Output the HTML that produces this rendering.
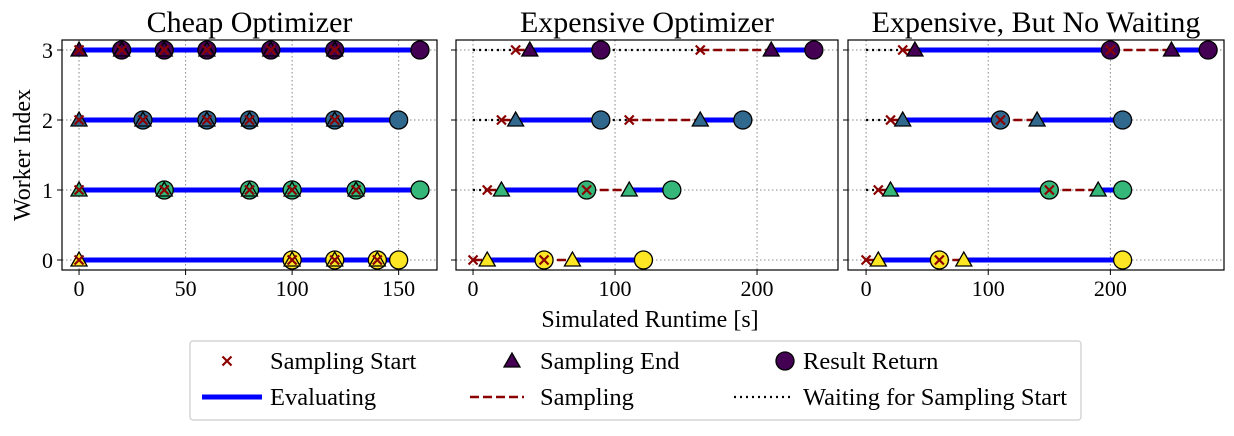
<!DOCTYPE html>
<html><head><meta charset="utf-8"><style>
body{margin:0;background:#fff;width:1234px;height:431px;overflow:hidden}
text{font-family:"Liberation Serif","Times New Roman",serif;fill:#000}
</style></head><body>
<svg id="chart" width="1234" height="431" xmlns="http://www.w3.org/2000/svg"></svg>
<script>
const panelTitles = ["Cheap Optimizer","Expensive Optimizer","Expensive, But No Waiting"];
const workers = [0,1,2,3];
const xTicksP = [[0,50,100,150],[0,100,200],[0,100,200]];
const yTicks = [0,1,2,3];
// jobs per worker: [samplingStart, samplingEnd, resultReturn]
const jobsCheap = [
 [[0,0,100],[100,100,120],[120,120,140],[140,140,150]],
 [[0,0,40],[40,40,80],[80,80,100],[100,100,130],[130,130,160]],
 [[0,0,30],[30,30,60],[60,60,80],[80,80,120],[120,120,150]],
 [[0,0,20],[20,20,40],[40,40,60],[60,60,90],[90,90,120],[120,120,160]]
];
const jobsExpensive = [
 [[0,10,50],[50,70,120]],
 [[10,20,80],[80,110,140]],
 [[20,30,90],[110,160,190]],
 [[30,40,90],[160,210,240]]
];
const jobsNoWait = [
 [[0,10,60],[60,80,210]],
 [[10,20,150],[150,190,210]],
 [[20,30,110],[110,140,210]],
 [[30,40,200],[200,250,280]]
];
const panelJobs = [jobsCheap, jobsExpensive, jobsNoWait];
const xDomains = [[-8,168],[-12,257],[-14.8,293]];
const workerColors = ["#fde725","#35b779","#31688e","#440154"];

const NS="http://www.w3.org/2000/svg";
const FF='"Liberation Serif","Times New Roman",serif';
const svg=document.getElementById('chart');
function mk(tag,attrs,parent){const e=document.createElementNS(NS,tag);for(const k in attrs)e.setAttribute(k,attrs[k]);if(tag==='text')e.setAttribute('font-family',FF);(parent||svg).appendChild(e);return e;}
const boxes=[[62,437],[456,838],[848,1224]];
const topY=40,botY=270;
function yScale(w){return 260-w*70;}
function triPts(x,y,s){return `${x},${y-s} ${x-s},${y+s*0.75} ${x+s},${y+s*0.75}`;}
function xMark(g,x,y,s,w){const p=mk('path',{d:`M${x-s},${y-s}L${x+s},${y+s}M${x-s},${y+s}L${x+s},${y-s}`,stroke:'#8b0000','stroke-width':w||2.2,fill:'none'},g);return p;}

panelTitles.forEach((title,pi)=>{
  const [x0,x1]=boxes[pi];const [d0,d1]=xDomains[pi];
  const xs=v=>x0+(v-d0)/(d1-d0)*(x1-x0);
  const g=mk('g',{});
  
  
  xTicksP[pi].forEach(t=>{
    const l=mk('line',{x1:xs(t),x2:xs(t),y1:topY,y2:botY,stroke:'#888','stroke-width':1,'stroke-dasharray':'1.5,2.5'},g);
    
    
    mk('line',{x1:xs(t),x2:xs(t),y1:botY,y2:botY+5,stroke:'#000','stroke-width':1},g);
    const tx=mk('text',{x:xs(t),y:botY+26,'text-anchor':'middle','font-size':22},g);tx.textContent=t;
    
    
  });
  yTicks.forEach(t=>{
    const l=mk('line',{x1:x0,x2:x1,y1:yScale(t),y2:yScale(t),stroke:'#888','stroke-width':1,'stroke-dasharray':'1.5,2.5'},g);
    
    
    mk('line',{x1:x0-5,x2:x0,y1:yScale(t),y2:yScale(t),stroke:'#000','stroke-width':1},g);
    if(pi===0){const tx=mk('text',{x:x0-9,y:yScale(t)+8,'text-anchor':'end','font-size':22},g);tx.textContent=t;
      
      }
  });
  const tt=mk('text',{x:(x0+x1)/2,y:32,'text-anchor':'middle','font-size':30},g);tt.textContent=title;
  
  
  const jobs=panelJobs[pi];
  workers.forEach(w=>{
    const y=yScale(w);let prev=0;
    jobs[w].forEach(j=>{
      if(j[0]>prev){const l=mk('line',{x1:xs(prev),x2:xs(j[0]),y1:y,y2:y,stroke:'#000','stroke-width':2.2,'stroke-dasharray':'2,4'},g);
        
        }
      if(j[1]>j[0]){const l=mk('line',{x1:xs(j[0]),x2:xs(j[1]),y1:y,y2:y,stroke:'#8b0000','stroke-width':2.5,'stroke-dasharray':'9,4'},g);
        
        }
      prev=j[2];
    });
    jobs[w].forEach(j=>{
      const l=mk('line',{x1:xs(j[1]),x2:xs(j[2]),y1:y,y2:y,stroke:'#0000ff','stroke-width':5},g);
      
      
    });
  });
  workers.forEach(w=>{const y=yScale(w);jobs[w].forEach(j=>{
    const c=mk('circle',{cx:xs(j[2]),cy:y,r:9,fill:workerColors[w],stroke:'#000','stroke-width':1.3},g);
    
    });});
  workers.forEach(w=>{const y=yScale(w);jobs[w].forEach(j=>{
    const p=mk('polygon',{points:triPts(xs(j[1]),y,8),fill:workerColors[w],stroke:'#000','stroke-width':1.3},g);
    
    });});
  workers.forEach(w=>{const y=yScale(w);jobs[w].forEach(j=>{
    const p=xMark(g,xs(j[0]),y,4.5);
    
    });});
  const fr=mk('rect',{x:x0,y:topY,width:x1-x0,height:botY-topY,fill:'none',stroke:'#000','stroke-width':1.2},g);
  
  
});
const yl=mk('text',{x:0,y:0,transform:'translate(30,155) rotate(-90)','text-anchor':'middle','font-size':24});yl.textContent='Worker Index';


const xl=mk('text',{x:650,y:327,'text-anchor':'middle','font-size':24});xl.textContent='Simulated Runtime [s]';


const lg=mk('g',{});


mk('rect',{x:190,y:341,width:891,height:79,fill:'#fff',stroke:'#ccc','stroke-width':1.2,rx:3},lg);
function ltext(x,y,s,name){const t=mk('text',{x:x,y:y+8,'font-size':24.5},lg);t.textContent=s;
  
  }
xMark(lg,227,361,4.5);ltext(270,361,'Sampling Start','legend-sampling-start');
mk('polygon',{points:triPts(512,361,8),fill:'#440154',stroke:'#000','stroke-width':1.3},lg);ltext(540,361,'Sampling End','legend-sampling-end');
mk('circle',{cx:785,cy:361,r:9,fill:'#440154',stroke:'#000','stroke-width':1.3},lg);ltext(803,361,'Result Return','legend-result-return');
mk('line',{x1:202,x2:262,y1:397,y2:397,stroke:'#0000ff','stroke-width':5},lg);ltext(270,397,'Evaluating','legend-evaluating');
mk('line',{x1:470,x2:524,y1:397,y2:397,stroke:'#8b0000','stroke-width':2.5,'stroke-dasharray':'9,4'},lg);ltext(540,397,'Sampling','legend-sampling');
mk('line',{x1:734,x2:792,y1:397,y2:397,stroke:'#000','stroke-width':2.2,'stroke-dasharray':'2,4'},lg);ltext(803,397,'Waiting for Sampling Start','legend-waiting');
</script>
</body></html>
